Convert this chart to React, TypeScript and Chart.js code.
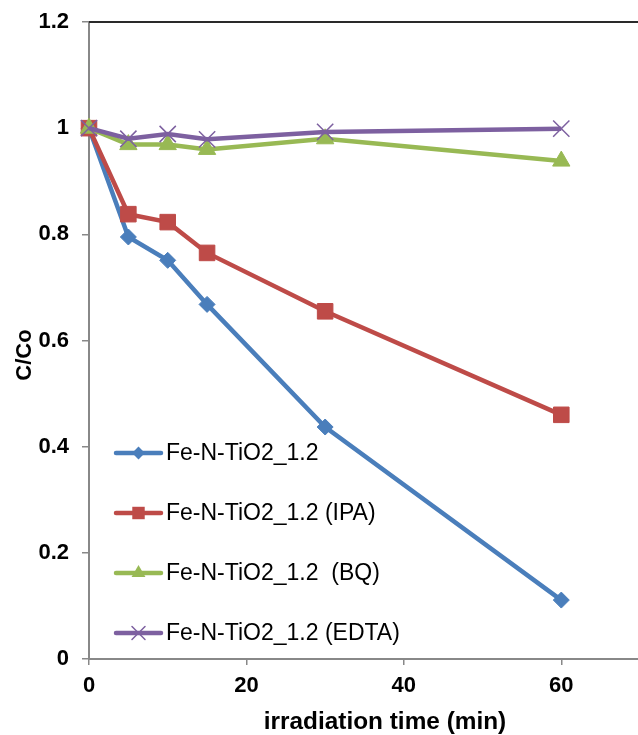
import React, { useEffect, useRef } from "react";
import { Chart, registerables } from "chart.js";

Chart.register(...registerables);

// ---- data ----
const timeMin = [0, 5, 10, 15, 30, 60];
const seriesNames = [
  "Fe-N-TiO2_1.2",
  "Fe-N-TiO2_1.2 (IPA)",
  "Fe-N-TiO2_1.2  (BQ)",
  "Fe-N-TiO2_1.2 (EDTA)",
];
const baseValues = [1.0, 0.795, 0.751, 0.668, 0.437, 0.111];
const ipaValues = [1.0, 0.838, 0.823, 0.765, 0.655, 0.46];
const bqValues = [1.0, 0.969, 0.969, 0.96, 0.98, 0.938];
const edtaValues = [1.0, 0.98, 0.989, 0.979, 0.993, 0.999];
const xTicks = [0, 20, 40, 60];
const yTicks = [0, 0.2, 0.4, 0.6, 0.8, 1.0, 1.2];
const yTickLabels = ["0", "0.2", "0.4", "0.6", "0.8", "1", "1.2"];
const xTitle = "irradiation time (min)";
const yTitle = "C/Co";

const colors = ["#4A7EBB", "#BE4B48", "#98B954", "#7D60A0"];
const pointStyles = ["rectRot", "rect", "triangle", "crossRot"];
const pointRadii = [8, 11, 10, 11.5];

const FONT = '"Liberation Sans", Arial, Helvetica, sans-serif';

function drawMarker(ctx: CanvasRenderingContext2D, style: string, x: number, y: number, r: number, color: string) {
  ctx.save();
  ctx.fillStyle = color;
  ctx.strokeStyle = color;
  ctx.beginPath();
  if (style === "rectRot") {
    ctx.moveTo(x - r, y);
    ctx.lineTo(x, y - r);
    ctx.lineTo(x + r, y);
    ctx.lineTo(x, y + r);
    ctx.closePath();
    ctx.fill();
  } else if (style === "rect") {
    const s = r * Math.SQRT1_2;
    ctx.rect(x - s, y - s, 2 * s, 2 * s);
    ctx.fill();
  } else if (style === "triangle") {
    ctx.moveTo(x, y - r);
    ctx.lineTo(x + r * Math.cos(Math.PI / 6), y + r / 2);
    ctx.lineTo(x - r * Math.cos(Math.PI / 6), y + r / 2);
    ctx.closePath();
    ctx.fill();
  } else {
    const d = r * Math.SQRT1_2;
    ctx.lineWidth = 1.5;
    ctx.moveTo(x - d, y - d);
    ctx.lineTo(x + d, y + d);
    ctx.moveTo(x + d, y - d);
    ctx.lineTo(x - d, y + d);
    ctx.stroke();
  }
  ctx.restore();
}

const overlayPlugin = {
  id: "overlay",
  afterDraw(chart: any) {
    const { ctx, chartArea } = chart;
    ctx.save();
    // top frame line
    ctx.strokeStyle = "#2a2a2a";
    ctx.lineWidth = 2;
    ctx.beginPath();
    ctx.moveTo(chartArea.left, chartArea.top);
    ctx.lineTo(chartArea.right, chartArea.top);
    ctx.stroke();

    // axis titles
    ctx.fillStyle = "#000";
    ctx.font = `bold 23px ${FONT}`;
    ctx.textAlign = "center";
    ctx.textBaseline = "alphabetic";
    ctx.save();
    ctx.translate(385, 729);
    ctx.scale(1.06, 1);
    ctx.fillText(xTitle, 0, 0);
    ctx.restore();
    ctx.font = `bold 22px ${FONT}`;
    ctx.save();
    ctx.translate(31, 355);
    ctx.rotate(-Math.PI / 2);
    ctx.fillText(yTitle, 0, 0);
    ctx.restore();

    // legend
    const legendY = [453, 513, 573, 633];
    ctx.font = `23px ${FONT}`;
    ctx.textAlign = "left";
    ctx.textBaseline = "middle";
    seriesNames.forEach((name, i) => {
      const y = legendY[i];
      ctx.strokeStyle = colors[i];
      ctx.lineWidth = 4.5;
      ctx.lineCap = "round";
      ctx.beginPath();
      ctx.moveTo(116, y);
      ctx.lineTo(161, y);
      ctx.stroke();
      drawMarker(ctx, pointStyles[i], 138.5, y, pointRadii[i] * 0.8, colors[i]);
      ctx.fillStyle = "#000";
      ctx.fillText(name, 166, y + 1);
    });
    ctx.restore();
  },
};

export default function App() {
  const ref = useRef<HTMLCanvasElement | null>(null);
  useEffect(() => {
    if (!ref.current) return;
    const allSeries = [baseValues, ipaValues, bqValues, edtaValues];
    const chart = new Chart(ref.current, {
      type: "line",
      data: {
        datasets: allSeries.map((vals, i) => ({
          label: seriesNames[i],
          data: timeMin.map((t, j) => ({ x: t, y: vals[j] })),
          borderColor: colors[i],
          backgroundColor: colors[i],
          borderWidth: 4.5,
          pointStyle: pointStyles[i] as any,
          pointRadius: pointRadii[i],
          pointBorderWidth: i === 3 ? 1.5 : 1,
          pointBackgroundColor: colors[i],
          pointBorderColor: colors[i],
          tension: 0,
          clip: false as any,
          order: 4 - i,
        })),
      },
      options: {
        responsive: false,
        animation: false,
        events: [],
        layout: { autoPadding: false, padding: { top: 22, left: 0, right: 0, bottom: 0 } },
        plugins: {
          legend: { display: false },
          tooltip: { enabled: false },
        },
        scales: {
          x: {
            type: "linear",
            min: 0,
            max: 70,
            afterBuildTicks: (scale: any) => {
              scale.ticks = xTicks.map((v) => ({ value: v }));
            },
            afterFit: (scale: any) => {
              scale.height = 76;
              scale.paddingLeft = 0;
              scale.paddingRight = 0;
            },
            grid: {
              drawOnChartArea: false,
              drawTicks: true,
              tickLength: 6,
              color: "#888",
              lineWidth: 1.5,
            },
            border: { display: true, color: "#888", width: 2 },
            ticks: {
              color: "#000",
              font: { family: FONT, size: 22, weight: "bold" },
              padding: 8,
              maxRotation: 0,
              autoSkip: false,
            },
          },
          y: {
            type: "linear",
            min: 0,
            max: 1.2,
            afterBuildTicks: (scale: any) => {
              scale.ticks = yTicks.map((v) => ({ value: v }));
            },
            afterFit: (scale: any) => {
              scale.width = 89;
              scale.paddingTop = 0;
              scale.paddingBottom = 0;
            },
            grid: {
              drawOnChartArea: false,
              drawTicks: true,
              tickLength: 7,
              color: "#888",
              lineWidth: 1.5,
            },
            border: { display: true, color: "#888", width: 2 },
            ticks: {
              color: "#000",
              font: { family: FONT, size: 22, weight: "bold" },
              padding: 13,
              autoSkip: false,
              callback: (value: any) => {
                const idx = yTicks.findIndex((v) => Math.abs(v - Number(value)) < 1e-9);
                return idx >= 0 ? yTickLabels[idx] : "";
              },
            },
          },
        },
      },
      plugins: [overlayPlugin],
    });
    return () => chart.destroy();
  }, []);

  return (
    <div
      style={{
        position: "fixed",
        left: 0,
        top: 0,
        width: 638,
        height: 735,
        overflow: "hidden",
        background: "#fff",
      }}
    >
      <canvas ref={ref} width={640} height={735} style={{ display: "block" }} />
    </div>
  );
}
